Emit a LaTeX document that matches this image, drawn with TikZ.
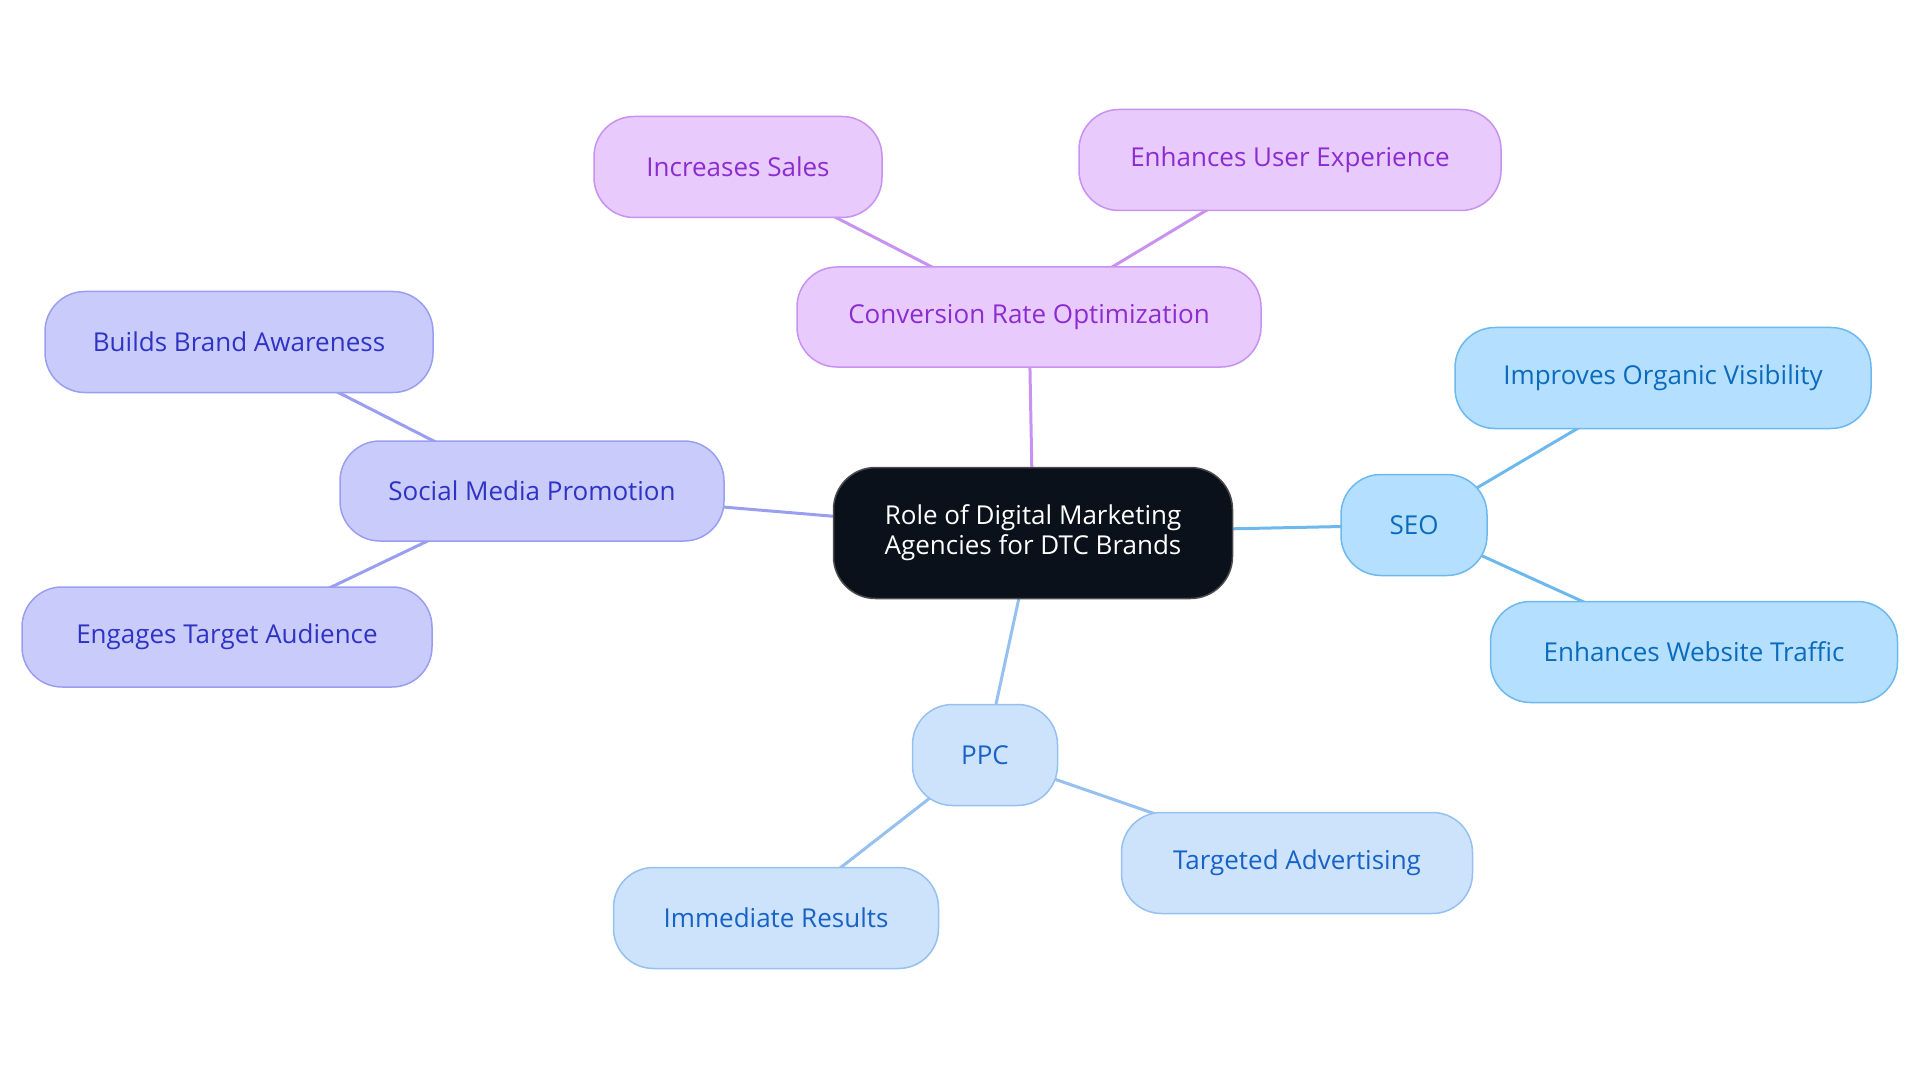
\documentclass[tikz,border=0pt]{standalone}
\usepackage{fontspec}
\setmainfont{Open Sans}
\usetikzlibrary{backgrounds}
\definecolor{purF}{HTML}{E8CAFC}\definecolor{purD}{HTML}{C892F0}\definecolor{purT}{HTML}{8B2CD0}
\definecolor{indF}{HTML}{C9CBFB}\definecolor{indD}{HTML}{9A9EF0}\definecolor{indT}{HTML}{2F33C4}
\definecolor{skyF}{HTML}{B4DFFE}\definecolor{skyD}{HTML}{6DB9EE}\definecolor{skyT}{HTML}{0A6BBC}
\definecolor{ppcF}{HTML}{CDE3FB}\definecolor{ppcD}{HTML}{95C0F0}\definecolor{ppcT}{HTML}{1662C6}
\definecolor{ctrF}{HTML}{0B111A}
\begin{document}
\begin{tikzpicture}[x=1pt,y=-1pt,
  pill/.style={rounded corners=40pt,line width=1.5pt,inner sep=0pt,font=\fontsize{26}{30}\selectfont,align=center},
  pur/.style={pill,fill=purF,draw=purD,text=purT},
  ind/.style={pill,fill=indF,draw=indD,text=indT},
  sky/.style={pill,fill=skyF,draw=skyD,text=skyT},
  ppc/.style={pill,fill=ppcF,draw=ppcD,text=ppcT},
  ctr/.style={pill,fill=ctrF,draw=black!70,text=white,rounded corners=42pt},
  link/.style={line width=3pt}]
\useasboundingbox (0,0) rectangle (1920,1083);
\node[ctr,minimum width=399pt,minimum height=131pt] (c) at (1033,533) {Role of Digital Marketing\\Agencies for DTC Brands};
\node[pur,minimum width=464pt,minimum height=100pt] (cro) at (1029,317) {Conversion Rate Optimization};
\node[pur,minimum width=288pt,minimum height=101pt] (is) at (738,167) {Increases Sales};
\node[pur,minimum width=422pt,minimum height=101pt] (eue) at (1290,160) {Enhances User Experience};
\node[ind,minimum width=384pt,minimum height=100pt] (smp) at (532,491) {Social Media Promotion};
\node[ind,minimum width=388pt,minimum height=101pt] (bba) at (239,342) {Builds Brand Awareness};
\node[ind,minimum width=410pt,minimum height=100pt] (eta) at (227,637) {Engages Target Audience};
\node[sky,minimum width=146pt,minimum height=101pt] (seo) at (1414,525) {SEO};
\node[sky,minimum width=416pt,minimum height=101pt] (iov) at (1663,378) {Improves Organic Visibility};
\node[sky,minimum width=407pt,minimum height=101pt] (ewt) at (1694,652) {Enhances Website Traffic};
\node[ppc,minimum width=145pt,minimum height=101pt] (ppc) at (985,755) {PPC};
\node[ppc,minimum width=351pt,minimum height=101pt] (ta) at (1297,863) {Targeted Advertising};
\node[ppc,minimum width=325pt,minimum height=101pt] (ir) at (776,918) {Immediate Results};
\begin{scope}[on background layer]
\draw[link,purD] (c.center) -- (cro.center);
\draw[link,purD] (cro.center) -- (is.center);
\draw[link,purD] (cro.center) -- (eue.center);
\draw[link,indD] (c.center) -- (smp.center);
\draw[link,indD] (smp.center) -- (bba.center);
\draw[link,indD] (smp.center) -- (eta.center);
\draw[link,skyD] (c.center) -- (seo.center);
\draw[link,skyD] (seo.center) -- (iov.center);
\draw[link,skyD] (seo.center) -- (ewt.center);
\draw[link,ppcD] (c.center) -- (ppc.center);
\draw[link,ppcD] (ppc.center) -- (ta.center);
\draw[link,ppcD] (ppc.center) -- (ir.center);
\end{scope}
\end{tikzpicture}
\end{document}
